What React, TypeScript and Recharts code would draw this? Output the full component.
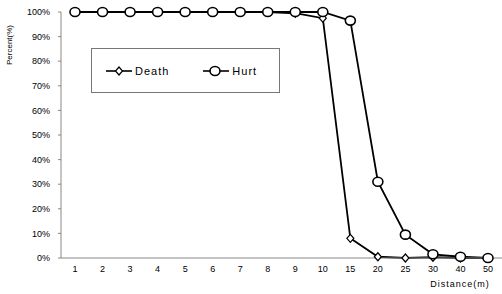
import React from 'react';
import { LineChart, Line, XAxis, YAxis } from 'recharts';

const distances = ['1', '2', '3', '4', '5', '6', '7', '8', '9', '10', '15', '20', '25', '30', '40', '50'];
const deathPct = [100, 100, 100, 100, 100, 100, 100, 100, 99.5, 97.5, 8, 0.5, 0, 0.3, 0, 0];
const hurtPct = [100, 100, 100, 100, 100, 100, 100, 100, 100, 100, 96.5, 31, 9.5, 1.5, 0.5, 0];
const yTicks = [0, 10, 20, 30, 40, 50, 60, 70, 80, 90, 100];

const data = distances.map((d, i) => ({ distance: d, death: deathPct[i], hurt: hurtPct[i] }));

const FONT = '"Liberation Sans", Arial, sans-serif';

const Diamond = (props: any) => {
  const { cx, cy } = props;
  if (cx == null || cy == null) return null;
  return (
    <path
      d={`M${cx},${cy - 4} L${cx + 3.5},${cy} L${cx},${cy + 4} L${cx - 3.5},${cy} Z`}
      fill="#fff"
      stroke="#000"
      strokeWidth={1.2}
    />
  );
};

const Ring = (props: any) => {
  const { cx, cy } = props;
  if (cx == null || cy == null) return null;
  return <ellipse cx={cx} cy={cy} rx={5} ry={4.5} fill="#fff" stroke="#000" strokeWidth={1.6} />;
};

// legend drawn as its own boxed block over the plot, like the spreadsheet original
const LegendBox = () => (
  <div
    style={{
      position: 'absolute',
      left: 91,
      top: 48,
      width: 189,
      height: 45,
      border: '1px solid #777',
      boxSizing: 'border-box',
      display: 'flex',
      alignItems: 'center',
      fontFamily: FONT,
      fontSize: 11,
      letterSpacing: 1,
      color: '#000',
      background: '#fff',
    }}
  >
    <svg width={26} height={12} style={{ marginLeft: 14 }}>
      <line x1={0} y1={6} x2={26} y2={6} stroke="#000" strokeWidth={1.6} />
      <path d="M13,2 L16.5,6 L13,10 L9.5,6 Z" fill="#fff" stroke="#000" strokeWidth={1.2} />
    </svg>
    <span style={{ marginLeft: 3 }}>Death</span>
    <svg width={26} height={12} style={{ marginLeft: 34 }}>
      <line x1={0} y1={6} x2={26} y2={6} stroke="#000" strokeWidth={1.6} />
      <ellipse cx={12} cy={6} rx={5} ry={4.5} fill="#fff" stroke="#000" strokeWidth={1.6} />
    </svg>
    <span style={{ marginLeft: 3 }}>Hurt</span>
  </div>
);

export default function App() {
  const tickStyle = { fontFamily: FONT, fontSize: 9, fill: '#000' };
  return (
    <div style={{ position: 'absolute', left: 0, top: 0, width: 502, height: 294, background: '#fff' }}>
      <LineChart width={502} height={294} data={data} margin={{ top: 12, right: 0, bottom: 0, left: 0 }}>
        <XAxis
          dataKey="distance"
          height={36}
          padding={{ left: 14, right: 14 }}
          tick={tickStyle}
          tickLine={false}
          axisLine={{ stroke: '#888' }}
          tickMargin={2}
          label={{
            content: () => (
              <text x={460} y={287} textAnchor="middle" fontFamily={FONT} fontSize={9} letterSpacing={1} fill="#000">
                Distance(m)
              </text>
            ),
          }}
        />
        <YAxis
          width={61}
          domain={[0, 100]}
          ticks={yTicks}
          tickFormatter={(v: number) => `${v}%`}
          tick={tickStyle}
          tickSize={3}
          tickMargin={8}
          tickLine={{ stroke: '#888' }}
          axisLine={{ stroke: '#888' }}
          label={{
            content: () => (
              <text
                x={12}
                y={45}
                transform="rotate(-90, 12, 45)"
                textAnchor="middle"
                fontFamily={FONT}
                fontSize={8}
                fill="#000"
              >
                Percent(%)
              </text>
            ),
          }}
        />
        <Line
          type="linear"
          dataKey="death"
          name="Death"
          stroke="#000"
          strokeWidth={1.8}
          dot={<Diamond />}
          activeDot={false}
          isAnimationActive={false}
        />
        <Line
          type="linear"
          dataKey="hurt"
          name="Hurt"
          stroke="#000"
          strokeWidth={1.8}
          dot={<Ring />}
          activeDot={false}
          isAnimationActive={false}
        />
      </LineChart>
      <LegendBox />
    </div>
  );
}
